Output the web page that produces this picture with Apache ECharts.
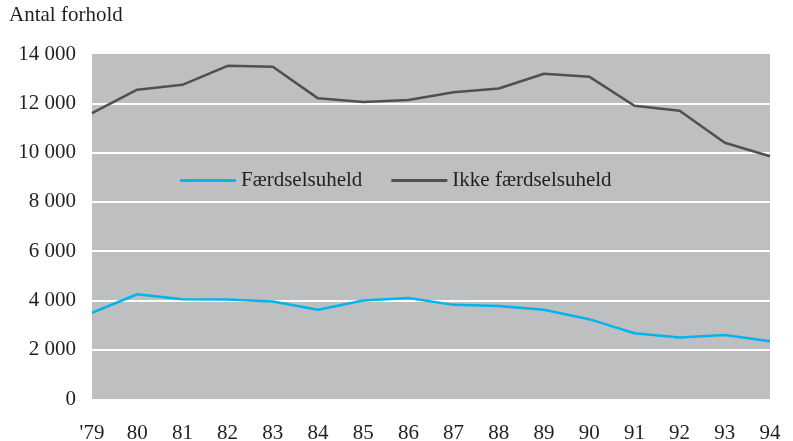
<!DOCTYPE html>
<html><head><meta charset="utf-8">
<script src="https://cdn.jsdelivr.net/npm/echarts@6/dist/echarts.min.js"></script>
<style>html,body{margin:0;padding:0;background:#fff}#c{width:793px;height:441px}</style>
</head><body><div id="c"></div>
<script>
const years = ["'79","80","81","82","83","84","85","86","87","88","89","90","91","92","93","94"];
const faerdsel = [3500,4250,4050,4040,3960,3620,4000,4100,3820,3770,3620,3240,2670,2500,2600,2340];
const ikkeFaerdsel = [11600,12550,12750,13520,13480,12200,12050,12130,12450,12600,13200,13080,11900,11700,10400,9850];
const seriesNames = ["Færdselsuheld","Ikke færdselsuheld"];
const yTitle = "Antal forhold";

const font = "'Liberation Serif', 'Times New Roman', serif";
const chart = echarts.init(document.getElementById('c'), null, {renderer:'canvas'});
chart.setOption({
  animation:false,
  backgroundColor:'#fff',
  textStyle:{fontFamily:font},
  graphic:[{type:'text', left:9, top:5, style:{text:yTitle, font:"21px "+font, fill:'#231f20'}}],
  legend:{
    left:175, top:165, itemWidth:56, itemHeight:3, itemGap:29, icon:'rect',
    textStyle:{fontFamily:font, fontSize:21, color:'#231f20'},
    data:seriesNames
  },
  grid:{left:92, right:23, top:54, bottom:42, show:true, backgroundColor:'#bebfc1', borderWidth:0, outerBoundsMode:'none', containLabel:false},
  xAxis:{
    type:'category', data:years, boundaryGap:false,
    axisLine:{show:false}, axisTick:{show:false},
    axisLabel:{fontFamily:font, fontSize:21, color:'#231f20', margin:24}
  },
  yAxis:{
    type:'value', min:0, max:14000, interval:2000,
    axisLine:{show:false}, axisTick:{show:false},
    axisLabel:{fontFamily:font, fontSize:21, color:'#231f20', margin:16,
      formatter:v=> v>=1000 ? Math.floor(v/1000)+' '+String(v%1000).padStart(3,'0') : String(v)},
    splitLine:{show:true, lineStyle:{width:2, color:['rgba(0,0,0,0)','#fff','#fff','#fff','#fff','#fff','#fff','rgba(0,0,0,0)']}}
  },
  series:[
    {name:seriesNames[0], type:'line', data:faerdsel, symbol:'none', lineStyle:{width:2.5, color:'#00b5ec'}, itemStyle:{color:'#00b5ec'}},
    {name:seriesNames[1], type:'line', data:ikkeFaerdsel, symbol:'none', lineStyle:{width:2.5, color:'#505052'}, itemStyle:{color:'#505052'}}
  ]
});
</script></body></html>
